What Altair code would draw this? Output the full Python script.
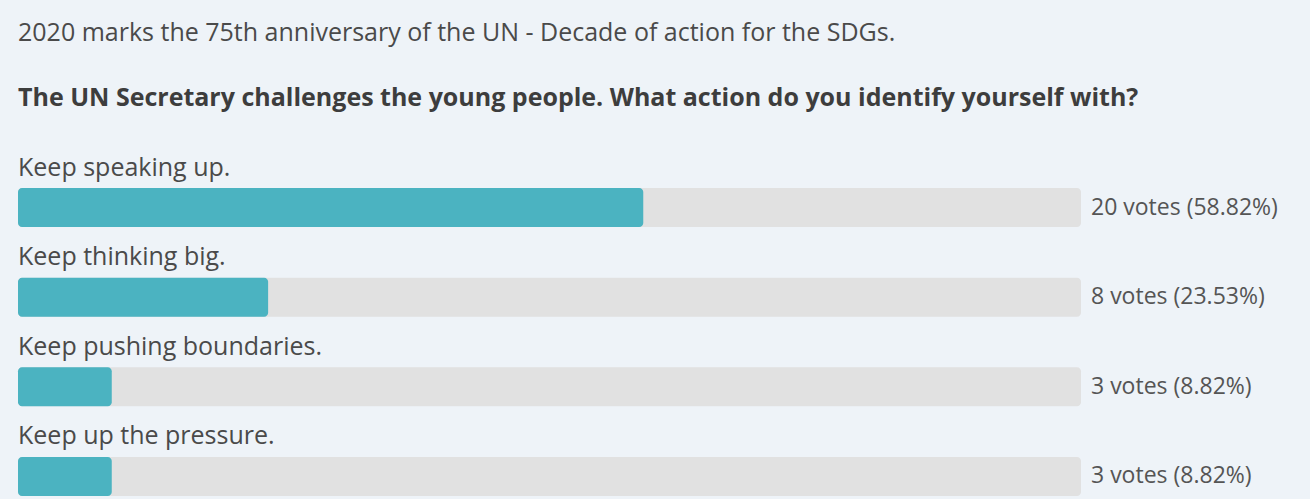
import altair as alt
import pandas as pd

intro = "2020 marks the 75th anniversary of the UN - Decade of action for the SDGs."
question = "The UN Secretary challenges the young people. What action do you identify yourself with?"
options = ["Keep speaking up.", "Keep thinking big.", "Keep pushing boundaries.", "Keep up the pressure."]
votes = [20, 8, 3, 3]
percents = [58.82, 23.53, 8.82, 8.82]

df = pd.DataFrame({
    "option": options,
    "votes": votes,
    "pct": percents,
    "full": [100] * len(options),
    "zero": [0] * len(options),
})
df["label"] = [f"{v} votes ({p:.2f}%)" for v, p in zip(votes, percents)]

TOP = 140
FONT = "Open Sans"
x_scale = alt.Scale(domain=[0, 100], range=[18, 1081], nice=False, zero=True)
y_scale = alt.Scale(domain=options, range=[188 - TOP, 496 - TOP], paddingInner=0.565, paddingOuter=0)

base = alt.Chart(df).encode(
    y=alt.Y("option:N", scale=y_scale, axis=None, sort=options)
)

track = base.mark_bar(color="#e1e1e1", cornerRadius=4).encode(
    x=alt.X("zero:Q", scale=x_scale, axis=None),
    x2="full:Q",
)
fill = base.mark_bar(color="#4bb3c1", cornerRadius=4).encode(
    x=alt.X("zero:Q", scale=x_scale, axis=None),
    x2="pct:Q",
)
names = base.mark_text(align="left", baseline="alphabetic", dy=-32, fontSize=25,
                       font=FONT, color="#4a4a4a").encode(
    x=alt.X("zero:Q", scale=x_scale, axis=None),
    text="option:N",
)
vals = base.mark_text(align="left", baseline="middle", dx=10, fontSize=23,
                      font=FONT, color="#555555").encode(
    x=alt.X("full:Q", scale=x_scale, axis=None),
    text="label:N",
)

chart = alt.layer(track, fill, names, vals).properties(
    width=1310,
    height=499 - TOP,
    background="#eef3f8",
    padding={"top": TOP, "left": 0, "right": 0, "bottom": 0},
    autosize=alt.AutoSizeParams(type="none"),
    title=alt.TitleParams(
        text=intro,
        subtitle=question,
        anchor="start",
        frame="group",
        orient="top",
        offset=29,
        dx=18,
        fontSize=25,
        font=FONT,
        fontWeight="normal",
        color="#4a4a4a",
        subtitleFontSize=25,
        subtitleFont=FONT,
        subtitleFontWeight="bold",
        subtitleColor="#3d3d3d",
        subtitlePadding=40,
    ),
).configure_view(stroke=None)

chart.save("out.html", embed_options={"renderer": "svg", "actions": False})
